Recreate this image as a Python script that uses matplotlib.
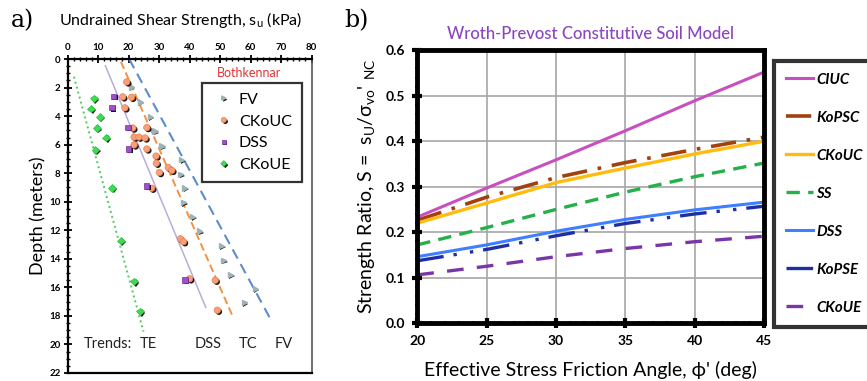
import matplotlib
matplotlib.use("Agg")
import matplotlib.pyplot as plt
import matplotlib.patheffects as pe
from matplotlib.ticker import MultipleLocator

plt.rcParams['font.family'] = ['Lato', 'DejaVu Sans']

# ---- panel a: Bothkennar profile (su in kPa, depth in m)
fv_su = [20.9, 23.8, 27.1, 28.7, 31.0, 37.4, 37.1, 38.4, 38.0, 41.0, 43.3, 50.5, 51.1, 53.4, 61.5, 57.9]
fv_depth = [1.95, 3.0, 4.05, 5.05, 6.1, 7.05, 8.07, 9.03, 10.05, 11.05, 12.05, 13.08, 14.1, 15.1, 16.1, 17.05]

ckouc_su = [19.4, 18.1, 21.0, 18.8, 21.4, 26.0, 21.8, 23.4, 25.4, 21.8, 26.0, 29.0,
            29.1, 33.0, 34.2, 30.1, 27.6, 37.0, 38.0, 40.0, 48.4, 49.1]
ckouc_depth = [1.6, 2.65, 2.68, 3.42, 4.83, 4.8, 5.47, 5.47, 5.53, 6.02, 6.3, 6.8,
               7.3, 7.6, 7.8, 7.95, 9.05, 12.6, 12.8, 15.4, 15.5, 17.6]

dss_su = [15.1, 14.6, 19.8, 20.1, 26.0, 38.5]
dss_depth = [2.6, 3.4, 4.78, 6.3, 8.9, 15.48]

ckoue_su = [8.6, 7.7, 10.6, 9.6, 12.6, 9.1, 14.6, 17.5, 21.8, 23.8]
ckoue_depth = [2.75, 3.48, 4.05, 4.83, 5.5, 6.36, 9.03, 12.72, 15.58, 17.68]

# trend lines (start, end)
trend_names = ['TE', 'DSS', 'TC', 'FV']
trend_su = [[2.1, 24.9], [12.4, 45.3], [17.5, 54.2], [20.2, 66.6]]
trend_depth = [[1.24, 19.1], [0.47, 17.4], [0.19, 18.06], [0.0, 18.25]]
trend_label_su = [26.4, 46.0, 59.3, 71.0]

# ---- panel b: Wroth-Prevost model
phi = [20, 25, 30, 35, 40, 45]
model_names = ['CIUC', 'KoPSC', 'CKoUC', 'SS', 'DSS', 'KoPSE', 'CKoUE']
model_ratio = [
    [0.233, 0.297, 0.359, 0.423, 0.489, 0.552],
    [0.226, 0.277, 0.320, 0.353, 0.382, 0.409],
    [0.220, 0.264, 0.309, 0.341, 0.372, 0.400],
    [0.172, 0.210, 0.250, 0.288, 0.322, 0.352],
    [0.146, 0.172, 0.202, 0.228, 0.249, 0.266],
    [0.137, 0.162, 0.192, 0.219, 0.240, 0.257],
    [0.106, 0.125, 0.146, 0.164, 0.179, 0.191],
]

fig = plt.figure(figsize=(8.67, 3.81), dpi=100)

# ================= panel a
ax = fig.add_axes([0.0779, 0.021, 0.2815, 0.824])
shadow = [pe.SimplePatchShadow(offset=(1.1, -1.1), shadow_rgbFace='k', alpha=0.9), pe.Normal()]

trend_styles = [dict(color='#4FCB5A', ls=':', lw=1.4),
                dict(color='#B9ACD8', ls='-', lw=1.1),
                dict(color='#F4913F', ls=(0, (4, 2)), lw=1.4),
                dict(color='#5B8CCF', ls=(0, (5, 3)), lw=1.5)]
for xs, ys, st in zip(trend_su, trend_depth, trend_styles):
    ax.plot(xs, ys, **st)

ax.plot(fv_su, fv_depth, ls='none', marker='>', ms=3.8, color='#9DB3B8', mec='#9DB3B8',
        label='FV', path_effects=shadow)
ax.plot(ckouc_su, ckouc_depth, ls='none', marker='o', ms=4.6, color='#F7A07A', mec='#E8804F',
        mew=0.5, label='CKoUC', path_effects=shadow)
ax.plot(dss_su, dss_depth, ls='none', marker='s', ms=3.8, color='#A050C8', mec='#7030A0',
        mew=0.5, label='DSS', path_effects=shadow)
ax.plot(ckoue_su, ckoue_depth, ls='none', marker='D', ms=3.8, color='#3EDC50', mec='#2EBF40',
        mew=0.5, label='CKoUE', path_effects=shadow)

ax.set_xlim(0, 80)
ax.set_ylim(22, 0)
ax.xaxis.tick_top()
ax.xaxis.set_major_locator(MultipleLocator(10))
ax.xaxis.set_minor_locator(MultipleLocator(2))
ax.yaxis.set_major_locator(MultipleLocator(2))
ax.yaxis.set_minor_locator(MultipleLocator(0.5))
ax.tick_params(which='major', direction='inout', length=6, width=1.3, labelsize=7, pad=2)
ax.tick_params(which='minor', direction='inout', length=3, width=1.0)
ax.tick_params(axis='x', which='both', top=True, bottom=False)
for lab in ax.get_xticklabels() + ax.get_yticklabels():
    lab.set_fontweight('bold')
ax.spines['left'].set_linewidth(1.6)
ax.spines['top'].set_linewidth(1.6)
ax.spines['bottom'].set_linewidth(1.6)
ax.spines['right'].set_linewidth(1.2)
ax.spines['right'].set_color('#555555')
ax.set_ylabel('Depth (meters)', fontsize=13, labelpad=2)

ax.text(13.3, 20, 'Trends:', fontsize=10.5, ha='center', va='center', color='#222222')
for name, xs in zip(trend_names, trend_label_su):
    ax.text(xs, 20, name, fontsize=10.5, ha='center', va='center', color='#222222')

ax.text(59.6, 0.95, 'Bothkennar', color='#E03535', fontsize=9, ha='center', va='center')
leg_a = ax.legend(loc='upper left', bbox_to_anchor=(0.552, 0.924), fontsize=11.5,
                  frameon=True, fancybox=False, edgecolor='black', borderpad=0.6,
                  handlelength=1.5, handletextpad=0.2, labelspacing=0.48, markerscale=0.8,
                  borderaxespad=0)
leg_a.get_frame().set_linewidth(1.6)

fig.text(0.208, 0.948, 'Undrained Shear Strength, s$_\\mathregular{u}$ (kPa)', fontsize=11.5,
         ha='center', va='center')
fig.text(0.012, 0.945, 'a)', fontsize=17, family='DejaVu Serif', ha='left', va='center')

# ================= panel b
bx = fig.add_axes([0.4813, 0.152, 0.3999, 0.716])
styles = [
    dict(color='#C94FC1', ls='-', lw=2.2),
    dict(color='#A0410F', ls=(0, (7, 3, 1, 3)), lw=2.6),
    dict(color='#FFBC0F', ls='-', lw=2.4),
    dict(color='#25B04A', ls=(0, (4, 2.5)), lw=2.4),
    dict(color='#3F7FFF', ls='-', lw=2.2),
    dict(color='#1E2FA6', ls=(0, (8, 3, 1, 4, 1, 3)), lw=2.4),
    dict(color='#7A36A8', ls=(0, (5, 4)), lw=2.4),
]
for name, vals, st in zip(model_names, model_ratio, styles):
    bx.plot(phi, vals, label=name, **st)

bx.set_xlim(20, 45)
bx.set_ylim(0, 0.6)
bx.xaxis.set_major_locator(MultipleLocator(5))
bx.xaxis.set_minor_locator(MultipleLocator(1))
bx.yaxis.set_major_locator(MultipleLocator(0.1))
bx.yaxis.set_minor_locator(MultipleLocator(0.02))
bx.grid(True, which='major', color='#A6A6A6', lw=1.2)
bx.tick_params(which='major', direction='inout', length=7, width=3, labelsize=10, pad=5)
bx.tick_params(which='minor', direction='inout', length=3, width=1.5)
for lab in bx.get_xticklabels() + bx.get_yticklabels():
    lab.set_fontweight('bold')
for sp in bx.spines.values():
    sp.set_linewidth(3.5)
bx.set_xlabel("Effective Stress Friction Angle, \u03d5' (deg)", fontsize=14, labelpad=10)
bx.set_ylabel("Strength Ratio, S =  s$_\\mathregular{U}$/\u03c3$_\\mathregular{vo}$' $_\\mathregular{NC}$",
              fontsize=14, labelpad=6)
bx.set_title('Wroth-Prevost Constitutive Soil Model', color='#8A45C0', fontsize=12,
             fontweight='medium', pad=8)
fig.text(0.397, 0.945, 'b)', fontsize=17, family='DejaVu Serif', ha='left', va='center')

handles, labels = bx.get_legend_handles_labels()
leg_b = fig.legend(handles, labels, loc='upper left', bbox_to_anchor=(0.893, 0.8407),
                   prop=dict(size=10.8, weight='bold', style='italic'),
                   frameon=True, fancybox=False, edgecolor='black', borderpad=0.8,
                   handlelength=1.8, handletextpad=0.2, labelspacing=1.6, borderaxespad=0)
leg_b.get_frame().set_linewidth(3)

fig.savefig('out.png', dpi=100)
